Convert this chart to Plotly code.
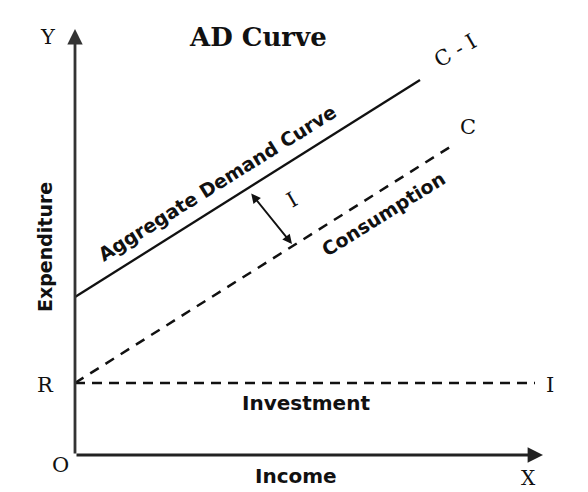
import plotly.graph_objects as go

# ---- data (units: income on x, expenditure on y; origin at O) ----
ad_income = [0, 345]
ad_expenditure = [158, 375]
c_income = [0, 375]
c_expenditure = [72, 308]
i_income = [0, 460]
i_expenditure = [72, 72]

x_axis_end = 468
y_axis_end = 426
gap_arrow_income = [175, 217]
gap_arrow_expenditure = [263, 211]

title_text = "AD Curve"
line_labels = ["Aggregate Demand Curve", "Consumption", "Investment"]
axis_titles = ["Income", "Expenditure"]

# page body has an 8px margin, so the figure is 8px smaller and shifted
W, H = 580, 484
X0, X1 = -67, 513
Y0, Y1 = -37, 447

fig = go.Figure()

fig.add_trace(go.Scatter(x=ad_income, y=ad_expenditure, mode="lines",
                         line=dict(color="#111", width=2.3), hoverinfo="skip"))
fig.add_trace(go.Scatter(x=c_income, y=c_expenditure, mode="lines",
                         line=dict(color="#111", width=2.5, dash="10px,8px"), hoverinfo="skip"))
fig.add_trace(go.Scatter(x=i_income, y=i_expenditure, mode="lines",
                         line=dict(color="#111", width=2.5, dash="10px,7px"), hoverinfo="skip"))

ann = []
# axes with arrows
ann.append(dict(x=0, y=y_axis_end, ax=0, ay=0, xref="x", yref="y", axref="x", ayref="y",
                text="", showarrow=True, arrowhead=2, arrowsize=1.1, arrowwidth=2.8,
                arrowcolor="#333", standoff=0))
ann.append(dict(x=x_axis_end, y=0, ax=0, ay=0, xref="x", yref="y", axref="x", ayref="y",
                text="", showarrow=True, arrowhead=2, arrowsize=1.1, arrowwidth=2.8,
                arrowcolor="#222", standoff=0))
# double-headed investment gap arrow
ann.append(dict(x=gap_arrow_income[1], y=gap_arrow_expenditure[1],
                ax=gap_arrow_income[0], ay=gap_arrow_expenditure[0],
                xref="x", yref="y", axref="x", ayref="y",
                text="", showarrow=True, arrowhead=2, startarrowhead=2, arrowside="end+start",
                arrowsize=1.0, arrowwidth=1.9, arrowcolor="#111", standoff=0, startstandoff=0))

serif = dict(family="DejaVu Serif", size=21, color="#111")
sans_b = dict(family="DejaVu Sans", size=19, color="#111", weight="bold")

def txt(x, y, t, font, angle=0):
    ann.append(dict(x=x, y=y, xref="x", yref="y", text=t, showarrow=False,
                    xanchor="center", yanchor="middle", font=font, textangle=angle))

txt(183, 418, title_text, dict(family="DejaVu Serif", size=26, color="#111", weight="bold"))
txt(-27, 418, "Y", serif)
txt(-15, -10, "O", serif)
txt(-30, 70, "R", serif)
txt(453, -23, "X", dict(family="DejaVu Serif", size=20, color="#111"))
txt(475, 70, "I", serif)
txt(393, 328, "C", serif)
txt(380, 404, "C - I", serif, -30)
txt(217, 255, "I", serif, -30)

txt(142, 272, line_labels[0], sans_b, -32)
txt(308, 241, line_labels[1], sans_b, -32)
txt(231, 52, line_labels[2], dict(family="DejaVu Sans", size=20, color="#111", weight="bold"))
txt(221, -21, axis_titles[0], dict(family="DejaVu Sans", size=20, color="#111", weight="bold"))
txt(-30, 208, axis_titles[1], sans_b, -90)

shapes = [
    dict(type="line", xref="paper", yref="paper", x0=577 / W, x1=577 / W, y0=0, y1=1,
         line=dict(color="#8a8a8a", width=1.5)),
]

fig.update_layout(
    width=W, height=H, margin=dict(l=0, r=0, t=0, b=0),
    paper_bgcolor="white", plot_bgcolor="white", showlegend=False,
    xaxis=dict(range=[X0, X1], visible=False, fixedrange=True),
    yaxis=dict(range=[Y0, Y1], visible=False, fixedrange=True),
    annotations=ann, shapes=shapes,
)

fig.write_html("out.html")
